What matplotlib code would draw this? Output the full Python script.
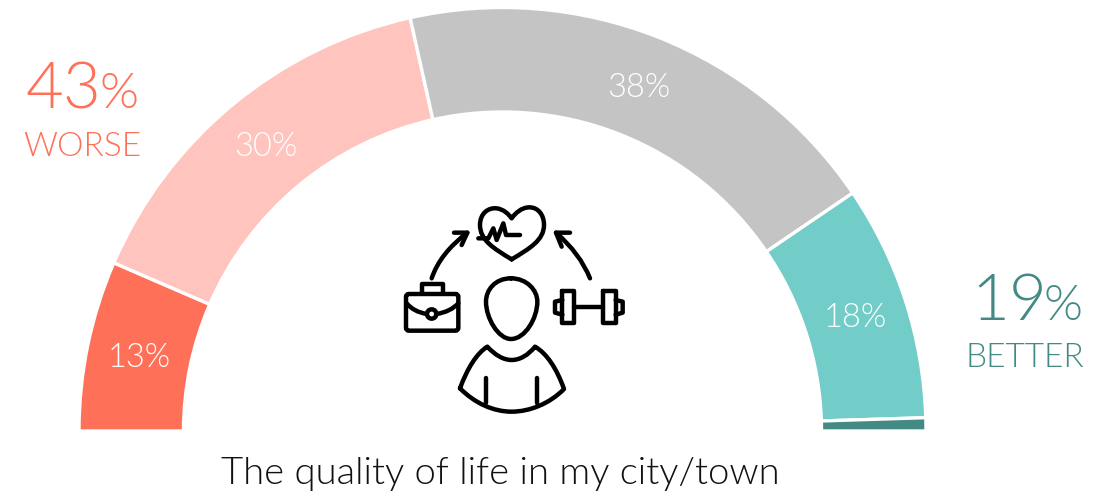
import numpy as np
import matplotlib
matplotlib.use("Agg")
import matplotlib.pyplot as plt
from matplotlib.path import Path
from matplotlib.patches import PathPatch, Circle, FancyBboxPatch

categories = ["much worse", "worse", "same", "better", "much better"]
values = [13, 30, 38, 18, 1]
labels = ["13%", "30%", "38%", "18%", ""]
colors = ["#ff7059", "#ffc4bd", "#c4c4c4", "#72cdc9", "#438a85"]
worse_total = "43"
better_total = "19"
title = "The quality of life in my city/town"

W, H = 1107, 499
CX, CY = 502.5, H - 431
R_OUT, R_IN = 423.5, 319
FONT = "Lato"

fig = plt.figure(figsize=(W / 100, H / 100), dpi=100)
ax = fig.add_axes([0, 0, 1, 1])

# la metade de baixo fica transparente
ax.pie(values + [sum(values)], colors=colors + ["none"], startangle=180,
       counterclock=False, center=(CX, CY), radius=R_OUT, frame=False,
       wedgeprops=dict(width=R_OUT - R_IN, edgecolor="white", linewidth=0))
for w in ax.patches[:len(values)]:
    w.set_edgecolor("white")
    w.set_linewidth(2.4)
ax.patches[-1].set_visible(False)
ax.set_xlim(0, W)
ax.set_ylim(0, H)
ax.axis("off")

# rotulos dentro do arco
total = sum(values)
acum = 0
for v, lab in zip(values, labels):
    ang = np.pi * (1 - (acum + v / 2) / total)
    r = (R_OUT + R_IN) / 2
    ax.text(CX + r * np.cos(ang), CY + r * np.sin(ang) - 2, lab, color="white",
            fontsize=23.5, family=FONT, weight=300, ha="center", va="center")
    acum += v

# totais dos lados
c_w, c_b = colors[0], colors[4]
ax.text(26, H - 108, worse_total, color=c_w, fontsize=47, family=FONT, weight=300, ha="left", va="baseline")
ax.text(139, H - 108, "%", color=c_w, fontsize=36, family=FONT, weight=300, ha="right", va="baseline")
ax.text(82, H - 147, "WORSE", color=c_w, fontsize=24, family=FONT, weight=300, ha="center", va="center")
ax.text(971, H - 320, better_total, color=c_b, fontsize=47, family=FONT, weight=300, ha="left", va="baseline")
ax.text(1082, H - 320, "%", color=c_b, fontsize=36, family=FONT, weight=300, ha="right", va="baseline")
ax.text(1025, H - 358, "BETTER", color=c_b, fontsize=24, family=FONT, weight=300, ha="center", va="center")
ax.text(500, H - 474, title, color="#111111", fontsize=27.5, family=FONT, weight=300, ha="center", va="center")


# icone central, coordenadas medidas no recorte 3x
def pt(zx, zy):
    return 380 + zx / 3, H - (190 + zy / 3)


LW = 3.2


def stroke(points, codes=None):
    verts = [pt(*p) for p in points]
    if codes is None:
        codes = [Path.MOVETO] + [Path.LINETO] * (len(verts) - 1)
    ax.add_patch(PathPatch(Path(verts, codes), fill=False, edgecolor="black", lw=LW,
                           capstyle="round", joinstyle="round"))


M, C3, C4 = Path.MOVETO, Path.CURVE3, Path.CURVE4

# coracao
stroke([(395, 208), (340, 175), (300, 150), (300, 105), (300, 70), (325, 52), (350, 55),
        (372, 58), (385, 72), (395, 85), (405, 70), (425, 52), (448, 52), (475, 52),
        (492, 75), (492, 105), (492, 150), (450, 175), (395, 208)],
       [M] + [C4] * 18)
stroke([(295, 145), (325, 145), (340, 115), (350, 150), (370, 100), (378, 135), (420, 135)])

# setas
stroke([(155, 265), (180, 190), (262, 128)], [M, C3, C3])
stroke([(222, 128), (262, 128), (245, 165)])
stroke([(630, 265), (600, 190), (528, 128)], [M, C3, C3])
stroke([(570, 128), (528, 128), (545, 170)])

# pasta
x0, y0 = pt(78, 422)
x1, y1 = pt(235, 312)
ax.add_patch(FancyBboxPatch((x0 + 2, y0 + 2), x1 - x0 - 4, y1 - y0 - 4,
                            boxstyle="round,pad=2,rounding_size=3",
                            fill=False, edgecolor="black", lw=LW))
stroke([(125, 310), (125, 282), (188, 282), (188, 310)])
stroke([(80, 340), (100, 365), (140, 372)], [M, C3, C3])
stroke([(170, 372), (212, 365), (235, 340)], [M, C3, C3])
ax.add_patch(Circle(pt(155, 372), 14 / 3, fill=False, edgecolor="black", lw=LW))

# haltere
stroke([(547, 303), (582, 303), (582, 400), (547, 400), (547, 303)])
stroke([(670, 303), (707, 303), (707, 400), (670, 400), (670, 303)])
stroke([(582, 350), (670, 350)])
stroke([(547, 330), (525, 335), (525, 368), (547, 374)])
stroke([(707, 330), (728, 335), (728, 368), (707, 374)])

# cabeca
stroke([(393, 265), (345, 265), (318, 300), (318, 335), (318, 385), (355, 447), (393, 447),
        (435, 447), (472, 385), (472, 335), (472, 300), (440, 265), (393, 265)],
       [M] + [C4] * 12)

# tronco
stroke([(240, 595), (262, 535), (290, 490), (322, 470), (345, 495), (370, 510), (395, 510),
        (420, 510), (445, 495), (465, 470), (500, 490), (530, 535), (552, 597),
        (510, 640), (450, 665), (395, 665), (340, 665), (285, 640), (240, 595)],
       [M] + [C4] * 18)
stroke([(317, 565), (317, 640)])
stroke([(472, 565), (472, 640)])

fig.savefig("out.png", dpi=100, facecolor="white")
